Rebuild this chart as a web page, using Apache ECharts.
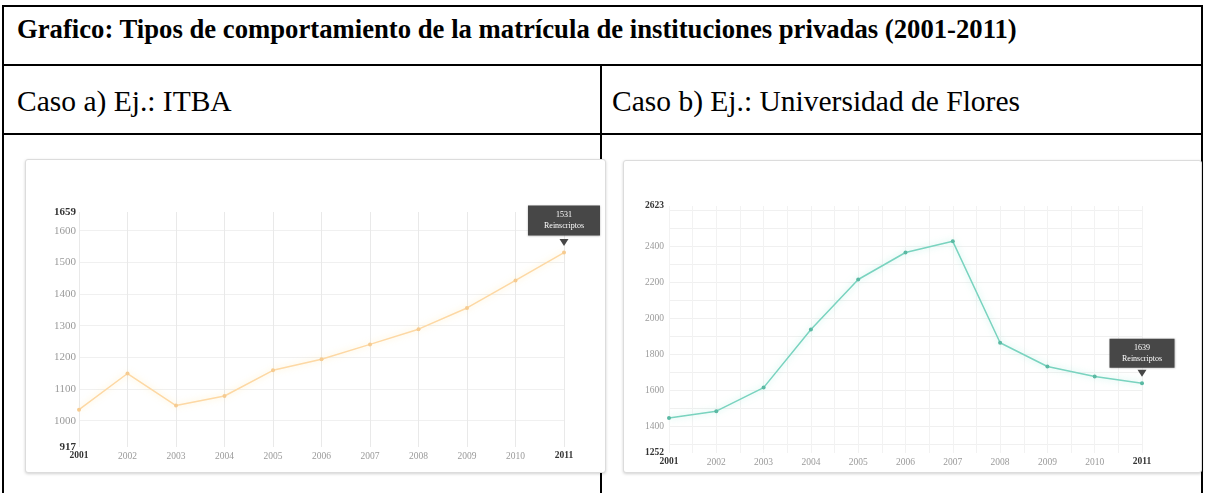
<!DOCTYPE html>
<html>
<head>
<meta charset="utf-8">
<script src="https://cdn.jsdelivr.net/npm/echarts@6/dist/echarts.min.js"></script>
<style>
  html, body { margin:0; padding:0; background:#fff; }
  body { width:1214px; height:493px; position:relative; overflow:hidden; font-family:"Liberation Serif", "DejaVu Serif", serif; }
  .ln { position:absolute; background:#000; }
  .txt { position:absolute; white-space:nowrap; color:#000; line-height:1; }
  .box { position:absolute; background:#fff; border:1px solid #dcdcdc; border-radius:3px; box-shadow:0 1px 3px rgba(0,0,0,0.18); }
</style>
</head>
<body>
<!-- table borders -->
<div class="ln" style="left:2px; top:5px; width:1201px; height:2px;"></div>
<div class="ln" style="left:2px; top:64px; width:1201px; height:2px;"></div>
<div class="ln" style="left:2px; top:133px; width:1201px; height:2px;"></div>
<div class="ln" style="left:2px; top:5px; width:2px; height:488px;"></div>
<div class="ln" style="left:1201px; top:5px; width:2px; height:488px;"></div>
<div class="ln" style="left:600px; top:64px; width:2px; height:429px;"></div>

<div class="txt" id="title" style="left:17px; top:16px; font-size:26.7px; font-weight:bold;"></div>
<div class="txt" id="casoA" style="left:17px; top:87px; font-size:29.5px;"></div>
<div class="txt" id="casoB" style="left:612px; top:87px; font-size:29.5px;"></div>

<div class="box" id="boxA" style="left:25px; top:159px; width:579px; height:312px;"></div>
<div class="box" id="boxB" style="left:623px; top:160px; width:577px; height:311px;"></div>

<script>
// ---------------- data ----------------
const titleText = 'Grafico: Tipos de comportamiento de la matrícula de instituciones privadas (2001-2011)';
const casoAText = 'Caso a) Ej.: ITBA';
const casoBText = 'Caso b) Ej.: Universidad de Flores';

const years = ['2001','2002','2003','2004','2005','2006','2007','2008','2009','2010','2011'];

const itbaValues   = [1035, 1149, 1048, 1078, 1159, 1194, 1241, 1289, 1356, 1443, 1531];
const itbaAxisMin  = 917;
const itbaAxisMax  = 1659;
const itbaTicks    = [1000, 1100, 1200, 1300, 1400, 1500, 1600];
const itbaGridTicks = [1000, 1100, 1200, 1300, 1400, 1500, 1600];

const floresValues  = [1446, 1484, 1615, 1937, 2215, 2365, 2427, 1864, 1732, 1677, 1639];
const floresAxisMin = 1252;
const floresAxisMax = 2623;
const floresTicks   = [1400, 1600, 1800, 2000, 2200, 2400];
const floresGridTicks = [1300, 1400, 1500, 1600, 1700, 1800, 1900, 2000, 2100, 2200, 2300, 2400, 2500, 2600];

const tooltipUnit = 'Reinscriptos';
// --------------------------------------

document.getElementById('title').textContent = titleText;
document.getElementById('casoA').textContent = casoAText;
document.getElementById('casoB').textContent = casoBText;

const FONT = 'Liberation Serif';

function buildOption(cfg) {
  const last = years.length - 1;
  const labelVals = [cfg.min].concat(cfg.ticks, [cfg.max]);
  const xAxes = [{
    type: 'category',
    data: years,
    boundaryGap: false,
    axisLine: { show: false },
    axisTick: { show: false },
    splitLine: { show: true, lineStyle: { color: '#e9e9e9', width: 1 } },
    axisLabel: {
      color: '#9a9a9a', fontSize: cfg.xFont, fontFamily: FONT, margin: 4,
      formatter: (v, i) => (i === 0 || i === last) ? '{b|' + v + '}' : v,
      rich: { b: { fontWeight: 'bold', color: '#333', fontSize: cfg.xFont, fontFamily: FONT } }
    }
  }];
  const yAxes = [{
    type: 'value',
    min: cfg.min,
    max: cfg.max,
    axisLine: { show: false },
    axisTick: { show: false, customValues: cfg.gridTicks },
    splitLine: { show: true, lineStyle: { color: '#f0f0f0', width: 1 } },
    axisLabel: {
      customValues: labelVals,
      color: '#9a9a9a', fontSize: cfg.yFont, fontFamily: FONT, margin: cfg.labelMargin,
      formatter: v => (v === cfg.min || v === cfg.max) ? '{b|' + v + '}' : String(v),
      rich: { b: { fontWeight: 'bold', color: '#333', fontSize: cfg.yFont, fontFamily: FONT } }
    }
  }];
  if (cfg.halfLines) {
    xAxes.push({
      type: 'value', min: 0, max: (years.length - 1) * 2, interval: 1,
      position: 'bottom', show: true,
      axisLine: { show: false }, axisTick: { show: false }, axisLabel: { show: false },
      splitLine: { show: true, lineStyle: { color: '#f2f2f2', width: 1 } }
    });
  }
  return {
    animation: false,
    grid: cfg.grid,
    xAxis: xAxes,
    yAxis: yAxes,
    series: [{
      type: 'line',
      xAxisIndex: 0,
      data: cfg.values,
      symbol: 'circle',
      symbolSize: 4,
      lineStyle: { color: cfg.lineColor, width: 1.5, shadowBlur: 6, shadowColor: cfg.glow },
      itemStyle: { color: cfg.pointColor },
      z: 5,
      markPoint: {
        silent: true,
        data: [
          {
            coord: [years[last], cfg.values[last]],
            symbol: 'triangle', symbolRotate: 180, symbolSize: [9, 7], symbolOffset: [0, -10],
            itemStyle: { color: '#474747' }, label: { show: false }
          },
          {
            coord: [years[last], cfg.values[last]],
            value: cfg.values[last],
            symbol: 'rect', symbolSize: cfg.tipSize, symbolOffset: [0, cfg.tipOffset],
            itemStyle: { color: '#474747', shadowBlur: 2, shadowColor: 'rgba(0,0,0,0.3)' },
            label: {
              show: true, position: 'inside', color: '#fff', fontSize: 8, fontFamily: FONT, lineHeight: 11,
              formatter: p => p.value + '\n' + tooltipUnit
            }
          }
        ]
      }
    }]
  };
}

const chartA = echarts.init(document.getElementById('boxA'));
chartA.setOption(buildOption({
  values: itbaValues, min: itbaAxisMin, max: itbaAxisMax, ticks: itbaTicks, gridTicks: itbaGridTicks,
  grid: { left: 53, right: 41, top: 52, bottom: 25 },
  labelMargin: 3, xFont: 9.5, yFont: 11, halfLines: false,
  lineColor: '#fdd8a4', pointColor: '#f6cb90', glow: 'rgba(255,228,160,0.7)',
  tipSize: [72, 30], tipOffset: -32
}));

const chartB = echarts.init(document.getElementById('boxB'));
chartB.setOption(buildOption({
  values: floresValues, min: floresAxisMin, max: floresAxisMax, ticks: floresTicks, gridTicks: floresGridTicks,
  grid: { left: 45, right: 59, top: 45, bottom: 19 },
  labelMargin: 5, xFont: 9.5, yFont: 9.5, halfLines: true,
  lineColor: '#79d3bf', pointColor: '#5ab9a3', glow: 'rgba(140,230,210,0.6)',
  tipSize: [65, 29], tipOffset: -30
}));
</script>
</body>
</html>
